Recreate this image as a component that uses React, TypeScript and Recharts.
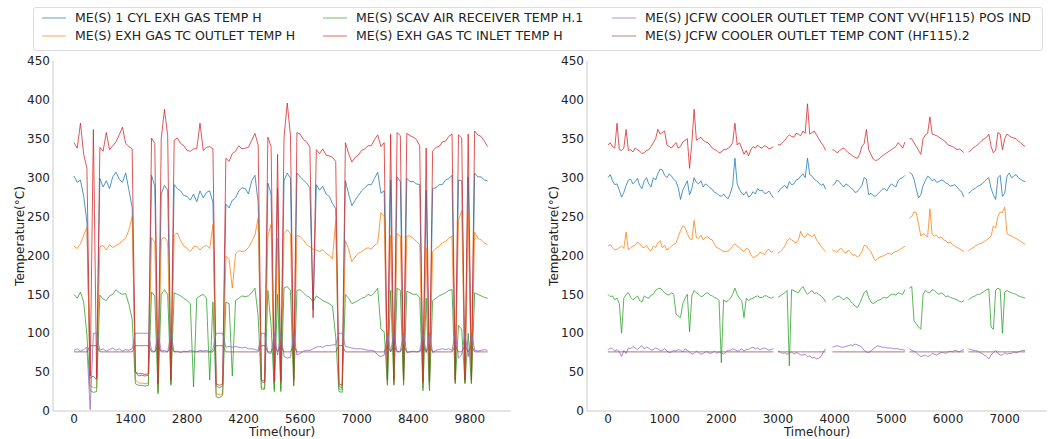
import React from 'react';
import { LineChart, Line, XAxis, YAxis } from 'recharts';

// sampling interval (hours) of each panel
const LEFT_STEP = 80;
const RIGHT_STEP = 40;

const LEFT_TICKS = [0, 1400, 2800, 4200, 5600, 7000, 8400, 9800];
const RIGHT_TICKS = [0, 1000, 2000, 3000, 4000, 5000, 6000, 7000];
const Y_TICKS = [0, 50, 100, 150, 200, 250, 300, 350, 400, 450];

// ---- left panel: raw data incl. shutdowns ----
const leftCylExh = [
  302, 294, 297, 276, 243, 42, 45, 40, 299, 288,
  296, 286, 301, 307, 298, 294, 306, 284, 262, 50,
  45, 46, 45, 46, 303, 289, 32, 279, 290, 284,
  38, 291, 286, 283, 277, 276, 271, 279, 269, 283,
  274, 281, 283, 268, 32, 30, 32, 266, 261, 271,
  274, 283, 287, 286, 279, 296, 303, 268, 38, 36,
  293, 279, 35, 286, 35, 296, 306, 299, 38, 306,
  301, 297, 293, 287, 130, 291, 284, 289, 279, 276,
  267, 260, 32, 30, 296, 279, 264, 271, 277, 283,
  287, 291, 291, 299, 307, 280, 283, 38, 297, 38,
  301, 295, 38, 299, 295, 295, 292, 291, 35, 284,
  35, 286, 287, 291, 291, 297, 299, 303, 38, 297,
  296, 38, 301, 38, 306, 301, 301, 297, 296,
];
const leftTcOutlet = [
  212, 209, 215, 226, 236, 32, 30, 30, 211, 213,
  207, 214, 210, 213, 215, 219, 222, 233, 250, 40,
  36, 36, 35, 36, 223, 217, 25, 221, 223, 218,
  35, 226, 229, 219, 212, 209, 205, 211, 212, 207,
  211, 213, 209, 240, 22, 21, 22, 199, 195, 158,
  202, 206, 205, 206, 210, 218, 226, 248, 30, 29,
  225, 240, 28, 222, 28, 228, 233, 228, 33, 226,
  224, 220, 214, 211, 208, 207, 205, 207, 203, 200,
  196, 245, 28, 27, 219, 208, 192, 198, 203, 205,
  208, 210, 208, 213, 216, 255, 250, 35, 226, 35,
  228, 225, 35, 225, 225, 222, 218, 214, 30, 210,
  30, 205, 209, 212, 216, 218, 222, 225, 36, 245,
  258, 36, 255, 36, 230, 222, 220, 216, 214,
];
const leftScavAir = [
  150, 145, 153, 140, 98, 26, 24, 25, 149, 144,
  142, 148, 150, 156, 152, 150, 151, 137, 118, 35,
  33, 33, 32, 33, 153, 148, 22, 150, 156, 150,
  33, 152, 150, 148, 145, 142, 138, 31, 145, 148,
  150, 145, 40, 140, 18, 17, 20, 140, 138, 45,
  142, 145, 148, 147, 148, 152, 158, 122, 28, 28,
  155, 110, 25, 150, 25, 158, 160, 155, 32, 155,
  156, 152, 148, 146, 140, 148, 145, 142, 140, 138,
  135, 95, 25, 24, 150, 145, 138, 140, 142, 145,
  146, 150, 148, 152, 158, 105, 102, 33, 155, 33,
  158, 155, 33, 154, 152, 150, 150, 146, 26, 145,
  26, 142, 145, 148, 150, 152, 155, 156, 35, 110,
  105, 35, 100, 35, 152, 150, 148, 146, 145,
];
const leftTcInlet = [
  345, 338, 370, 330, 312, 45, 362, 42, 339, 334,
  358, 336, 341, 346, 355, 365, 344, 340, 337, 50,
  48, 48, 47, 48, 351, 344, 35, 350, 388, 354,
  40, 348, 351, 344, 341, 335, 334, 337, 337, 370,
  335, 339, 340, 337, 35, 33, 35, 325, 321, 331,
  334, 341, 337, 338, 339, 348, 357, 342, 40, 38,
  352, 340, 38, 330, 38, 352, 396, 354, 40, 358,
  356, 349, 346, 339, 120, 336, 331, 337, 329, 328,
  326, 321, 35, 33, 345, 331, 320, 326, 329, 335,
  337, 341, 341, 349, 355, 340, 345, 40, 356, 40,
  358, 354, 40, 357, 354, 352, 349, 341, 38, 338,
  38, 334, 339, 340, 346, 347, 353, 356, 40, 355,
  351, 40, 356, 40, 360, 355, 353, 347, 340,
];
const leftCoolerVv = [
  78, 80, 77, 79, 82, 2, 100, 100, 78, 80,
  77, 79, 81, 78, 80, 77, 79, 78, 80, 100,
  100, 100, 100, 100, 78, 76, 100, 77, 78, 76,
  100, 76, 77, 75, 77, 76, 78, 77, 76, 78,
  77, 78, 76, 79, 100, 100, 100, 82, 83, 82,
  83, 82, 81, 82, 80, 80, 79, 78, 100, 100,
  75, 74, 100, 72, 100, 70, 68, 69, 100, 72,
  74, 77, 78, 78, 80, 82, 83, 82, 84, 84,
  85, 85, 100, 100, 83, 82, 81, 80, 80, 80,
  79, 78, 78, 77, 72, 70, 72, 100, 76, 100,
  76, 77, 100, 75, 76, 77, 76, 77, 100, 75,
  100, 75, 78, 79, 80, 79, 80, 78, 100, 68,
  72, 100, 70, 100, 78, 77, 78, 79, 78,
];
const leftCoolerCont = [
  76, 76, 76, 76, 76, 84, 84, 84, 76, 76,
  76, 76, 76, 76, 76, 76, 76, 76, 76, 84,
  84, 84, 84, 84, 76, 76, 84, 76, 76, 76,
  84, 76, 76, 76, 76, 76, 76, 76, 76, 76,
  76, 76, 76, 76, 84, 84, 84, 76, 76, 76,
  76, 76, 76, 76, 76, 76, 76, 76, 84, 84,
  76, 76, 84, 76, 84, 76, 76, 76, 84, 76,
  76, 76, 76, 76, 76, 76, 76, 76, 76, 76,
  76, 76, 84, 84, 76, 76, 76, 76, 76, 76,
  76, 76, 76, 76, 76, 76, 76, 84, 76, 84,
  76, 76, 84, 76, 76, 76, 76, 76, 84, 76,
  84, 76, 76, 76, 76, 76, 76, 76, 84, 76,
  76, 84, 76, 84, 76, 76, 76, 76, 76,
];

// ---- right panel: shutdowns removed (40 h samples) ----
const rightCylExh = [
  300, 304, 296, 291, 292, 284, 275, 281, 290, 297,
  298, 292, 295, 299, 290, 286, 296, 300, 292, 288,
  300, 297, 305, 311, 310, 303, 300, 305, 302, 298,
  295, 287, 272, 284, 290, 296, 278, 286, 300, 294,
  292, 296, 288, 292, 290, 287, 285, 281, 280, 277,
  276, 279, 275, 273, 280, 290, 325, 292, 285, 280,
  278, 282, 275, 277, 282, 279, 286, 283, 284, 280,
  280, 283, 278, 274, null, 281, 285, 288, 290, 286,
  295, 291, 292, 297, 298, 302, 305, 300, 325, 304,
  302, 298, 296, 293, 290, 292, 285, null, null, 290,
  292, 297, 295, 291, 288, 292, 290, 287, 285, 281,
  282, 286, 290, 300, 298, 278, 280, 277, 276, 279,
  282, 285, 286, 283, 288, 292, 290, 288, 296, 299,
  300, 303, null, 307, 305, 298, 285, 274, 278, 290,
  296, 302, 300, 296, 298, 294, 295, 297, 296, 293,
  292, 289, 290, 291, 288, 284, 282, 275, null, 280,
  282, 285, 286, 289, 290, 292, 295, 298, 300, 286,
  278, 272, 300, 303, 276, 280, 302, 306, 300, 302,
  304, 300, 298, 296, 295,
];
const rightTcOutlet = [
  212, 214, 210, 207, 208, 210, 212, 209, 230, 207,
  210, 212, 213, 217, 215, 211, 210, 213, 208, 206,
  212, 210, 216, 219, 210, 213, 207, 209, 212, 214,
  216, 224, 232, 238, 236, 228, 222, 220, 245, 223,
  222, 226, 220, 223, 224, 221, 220, 214, 210, 209,
  207, 205, 205, 206, 208, 212, 215, 212, 210, 207,
  205, 209, 208, 201, 197, 199, 200, 204, 203, 201,
  206, 208, 204, 206, null, 203, 205, 208, 212, 218,
  222, 220, 218, 216, 220, 231, 225, 223, 228, 226,
  224, 227, 220, 216, 212, 208, 205, null, null, 207,
  206, 204, 208, 209, 205, 203, 207, 204, 200, 201,
  198, 200, 205, 213, 212, 208, 205, 198, 193, 196,
  198, 199, 200, 202, 203, 201, 204, 205, 206, 208,
  210, 212, null, 248, 250, 256, 255, 240, 225, 228,
  226, 224, 260, 227, 225, 226, 222, 224, 220, 219,
  216, 217, 214, 212, 210, 209, 207, 205, null, 206,
  208, 210, 212, 214, 215, 216, 218, 220, 222, 225,
  238, 235, 250, 256, 255, 262, 228, 226, 225, 223,
  222, 220, 218, 216, 214,
];
const rightScavAir = [
  150, 147, 148, 143, 145, 138, 100, 145, 150, 152,
  146, 143, 145, 148, 142, 140, 148, 146, 145, 149,
  150, 155, 157, 158, 155, 152, 150, 149, 152, 150,
  125, 122, 120, 138, 145, 150, 102, 148, 155, 152,
  150, 147, 148, 151, 152, 149, 148, 146, 145, 142,
  62, 143, 140, 142, 145, 150, 158, 150, 145, 142,
  120, 145, 142, 144, 145, 147, 148, 146, 146, 148,
  148, 146, 145, 147, null, 146, 148, 150, 152, 155,
  58, 156, 155, 153, 152, 157, 160, 154, 150, 153,
  155, 151, 152, 150, 148, 145, 140, null, null, 143,
  145, 147, 148, 145, 143, 146, 145, 141, 138, 135,
  133, 138, 145, 152, 155, 146, 140, 138, 140, 142,
  143, 145, 146, 145, 148, 150, 150, 149, 152, 151,
  150, 156, null, 158, 160, 116, 112, 108, 105, 150,
  155, 153, 152, 156, 155, 152, 150, 152, 150, 147,
  148, 146, 145, 144, 143, 141, 140, 142, null, 143,
  145, 147, 148, 150, 150, 152, 154, 156, 157, 108,
  105, 155, 158, 156, 100, 153, 155, 153, 152, 151,
  150, 148, 147, 146, 145,
];
const rightTcInlet = [
  342, 345, 340, 338, 370, 336, 335, 338, 362, 335,
  336, 333, 338, 336, 334, 331, 332, 335, 336, 340,
  345, 350, 362, 356, 358, 360, 342, 340, 338, 342,
  345, 338, 340, 346, 348, 350, 312, 345, 388, 348,
  350, 352, 348, 346, 345, 342, 338, 336, 335, 332,
  333, 336, 336, 338, 340, 345, 370, 342, 345, 338,
  330, 335, 328, 336, 340, 338, 342, 339, 338, 341,
  340, 337, 338, 340, null, 343, 342, 345, 348, 352,
  355, 353, 352, 357, 356, 354, 360, 357, 395, 356,
  358, 360, 355, 350, 345, 341, 335, null, null, 336,
  335, 332, 334, 337, 338, 335, 332, 330, 328, 326,
  325, 330, 340, 344, 362, 336, 330, 324, 322, 323,
  325, 328, 330, 332, 334, 336, 338, 340, 345, 342,
  338, 346, null, 350, 350, 345, 340, 335, 330, 350,
  355, 357, 378, 356, 355, 354, 352, 350, 348, 346,
  342, 341, 340, 338, 336, 337, 335, 332, null, 333,
  335, 338, 340, 342, 345, 348, 350, 352, 356, 340,
  332, 335, 358, 356, 336, 350, 356, 354, 352, 351,
  350, 347, 345, 342, 340,
];
const rightCoolerVv = [
  78, 81, 80, 77, 79, 76, 70, 78, 74, 81,
  80, 83, 81, 79, 82, 84, 80, 82, 81, 78,
  79, 81, 80, 78, 78, 80, 77, 75, 76, 78,
  77, 79, 78, 76, 80, 78, 76, 73, 74, 77,
  75, 73, 74, 76, 76, 74, 75, 77, 74, 76,
  75, 73, 76, 78, 78, 80, 79, 77, 78, 80,
  77, 79, 79, 81, 82, 80, 81, 79, 80, 81,
  80, 78, 79, 80, null, 77, 76, 74, 75, 73,
  74, 76, 73, 75, 74, 72, 72, 73, 70, 71,
  68, 69, 67, 68, 70, 76, 80, null, null, 82,
  83, 84, 83, 82, 82, 83, 84, 85, 84, 86,
  85, 84, 82, 78, 76, 75, 77, 80, 82, 84,
  83, 82, 82, 81, 81, 81, 80, 80, 80, 79,
  79, 78, null, 80, 78, 77, 75, 72, 70, 71,
  72, 70, 71, 74, 73, 72, 74, 75, 75, 74,
  76, 77, 76, 78, 77, 76, 78, 79, null, 80,
  79, 78, 78, 77, 75, 74, 72, 70, 67, 72,
  75, 78, 74, 72, 72, 75, 73, 74, 74, 76,
  75, 76, 77, 78, 78,
];
const rightCoolerCont = [
  76, 76, 76, 76, 76, 76, 76, 76, 76, 76,
  76, 76, 76, 76, 76, 76, 76, 76, 76, 76,
  76, 76, 76, 76, 76, 76, 76, 76, 76, 76,
  76, 76, 76, 76, 76, 76, 76, 76, 76, 76,
  76, 76, 76, 76, 76, 76, 76, 76, 76, 76,
  76, 76, 76, 76, 76, 76, 76, 76, 76, 76,
  76, 76, 76, 76, 76, 76, 76, 76, 76, 76,
  76, 76, 76, 76, null, 76, 76, 76, 76, 76,
  76, 76, 76, 76, 76, 76, 76, 76, 76, 76,
  76, 76, 76, 76, 76, 76, 76, null, null, 76,
  76, 76, 76, 76, 76, 76, 76, 76, 76, 76,
  76, 76, 76, 76, 76, 76, 76, 76, 76, 76,
  76, 76, 76, 76, 76, 76, 76, 76, 76, 76,
  76, 76, null, 76, 76, 76, 76, 76, 76, 76,
  76, 76, 76, 76, 76, 76, 76, 76, 76, 76,
  76, 76, 76, 76, 76, 76, 76, 76, null, 76,
  76, 76, 76, 76, 76, 76, 76, 76, 76, 76,
  76, 76, 76, 76, 76, 76, 76, 76, 76, 76,
  76, 76, 76, 76, 76,
];

const SERIES = [
  { key: 'cylExh', name: 'ME(S) 1 CYL EXH GAS TEMP H', color: '#1f77b4' },
  { key: 'tcOutlet', name: 'ME(S) EXH GAS TC OUTLET TEMP H', color: '#ff7f0e' },
  { key: 'scavAir', name: 'ME(S) SCAV AIR RECEIVER TEMP H.1', color: '#2ca02c' },
  { key: 'tcInlet', name: 'ME(S) EXH GAS TC INLET TEMP H', color: '#d62728' },
  { key: 'coolerVv', name: 'ME(S) JCFW COOLER OUTLET TEMP CONT VV(HF115) POS IND', color: '#9467bd' },
  { key: 'coolerCont', name: 'ME(S) JCFW COOLER OUTLET TEMP CONT (HF115).2', color: '#8c564b' },
];

const buildRows = (step: number, cols: Record<string, (number | null)[]>) =>
  cols.cylExh.map((_, i) => {
    const row: Record<string, number | null> = { t: i * step };
    Object.keys(cols).forEach(k => { row[k] = cols[k][i]; });
    return row;
  });

const leftRows = buildRows(LEFT_STEP, {
  cylExh: leftCylExh, tcOutlet: leftTcOutlet, scavAir: leftScavAir,
  tcInlet: leftTcInlet, coolerVv: leftCoolerVv, coolerCont: leftCoolerCont,
});
const rightRows = buildRows(RIGHT_STEP, {
  cylExh: rightCylExh, tcOutlet: rightTcOutlet, scavAir: rightScavAir,
  tcInlet: rightTcInlet, coolerVv: rightCoolerVv, coolerCont: rightCoolerCont,
});

const FONT = '"DejaVu Sans", sans-serif';
const INK = '#222';
const SPINE = '#cccccc';

interface PanelProps {
  rows: Record<string, number | null>[];
  domain: [number, number];
  ticks: number[];
  left: number;
  width: number;
  yAxisWidth: number;
  rightMargin: number;
}

const Panel: React.FC<PanelProps> = ({ rows, domain, ticks, left, width, yAxisWidth, rightMargin }) => {
  const plotLeft = yAxisWidth;
  const plotRight = width - rightMargin;
  return (
    <div style={{ position: 'absolute', left, top: 0, width, height: 439 }}>
      <LineChart width={width} height={439} data={rows} margin={{ top: 61, right: rightMargin, bottom: 0, left: 0 }}>
        <XAxis
          dataKey="t" type="number" domain={domain} ticks={ticks} interval={0} allowDataOverflow
          height={28} tickLine={false} tickSize={0} tickMargin={3}
          axisLine={{ stroke: SPINE }} tick={{ fill: INK, fontSize: 12 }}
        />
        <XAxis
          xAxisId="top" orientation="top" dataKey="t" type="number" domain={domain} allowDataOverflow
          height={0} tick={false} tickLine={false} axisLine={{ stroke: SPINE }}
        />
        <YAxis
          type="number" domain={[0, 450]} ticks={Y_TICKS} interval={0} allowDataOverflow
          width={yAxisWidth} tickLine={false} tickSize={0} tickMargin={3}
          axisLine={{ stroke: SPINE }} tick={{ fill: INK, fontSize: 12 }}
        />
        <YAxis
          yAxisId="right" orientation="right" type="number" domain={[0, 450]} allowDataOverflow
          width={0} tick={false} tickLine={false} axisLine={{ stroke: SPINE }}
        />
        {SERIES.map(s => (
          <Line
            key={s.key} dataKey={s.key} name={s.name} stroke={s.color}
            strokeWidth={1} strokeOpacity={0.78} dot={false} activeDot={false}
            connectNulls={false} isAnimationActive={false}
          />
        ))}
      </LineChart>
      {/* axis titles */}
      <div style={{
        position: 'absolute', left: (plotLeft + plotRight) / 2 - 100, top: 426, width: 200,
        textAlign: 'center', fontSize: 12, lineHeight: '12px', color: INK,
      }}>Time(hour)</div>
      <div style={{
        position: 'absolute', left: yAxisWidth - 33 - 100, top: 229, width: 200,
        textAlign: 'center', fontSize: 12, lineHeight: '14px', color: INK,
        transform: 'rotate(-90deg)',
      }}>Temperature(°C)</div>
    </div>
  );
};

const LEGEND_POS = [
  { x: 42, y: 18 }, { x: 42, y: 36 },
  { x: 323, y: 18 }, { x: 323, y: 36 },
  { x: 612, y: 18 }, { x: 612, y: 36 },
];

const App: React.FC = () => (
  <div style={{ position: 'absolute', left: 0, top: 0, width: 1057, height: 439, background: '#fff', fontFamily: FONT, overflow: 'hidden' }}>
    <Panel rows={leftRows} domain={[-520, 10820]} ticks={LEFT_TICKS} left={0} width={530} yAxisWidth={53} rightMargin={19} />
    <Panel rows={rightRows} domain={[-370, 7746]} ticks={RIGHT_TICKS} left={530} width={527} yAxisWidth={57} rightMargin={10} />
    {/* legend */}
    <div style={{
      position: 'absolute', left: 33, top: 7, width: 1008, height: 42,
      border: '1px solid #dddddd', borderRadius: 3, background: 'rgba(255,255,255,0.8)',
    }} />
    {SERIES.map((s, i) => (
      <React.Fragment key={s.key}>
        <div style={{
          position: 'absolute', left: LEGEND_POS[i].x, top: LEGEND_POS[i].y - 1, width: 24, height: 1.5,
          background: s.color, opacity: 0.35,
        }} />
        <div style={{
          position: 'absolute', left: LEGEND_POS[i].x + 33, top: LEGEND_POS[i].y - 8, fontSize: 12.5,
          lineHeight: '16px', color: INK, whiteSpace: 'nowrap',
        }}>{s.name}</div>
      </React.Fragment>
    ))}
  </div>
);

export default App;
